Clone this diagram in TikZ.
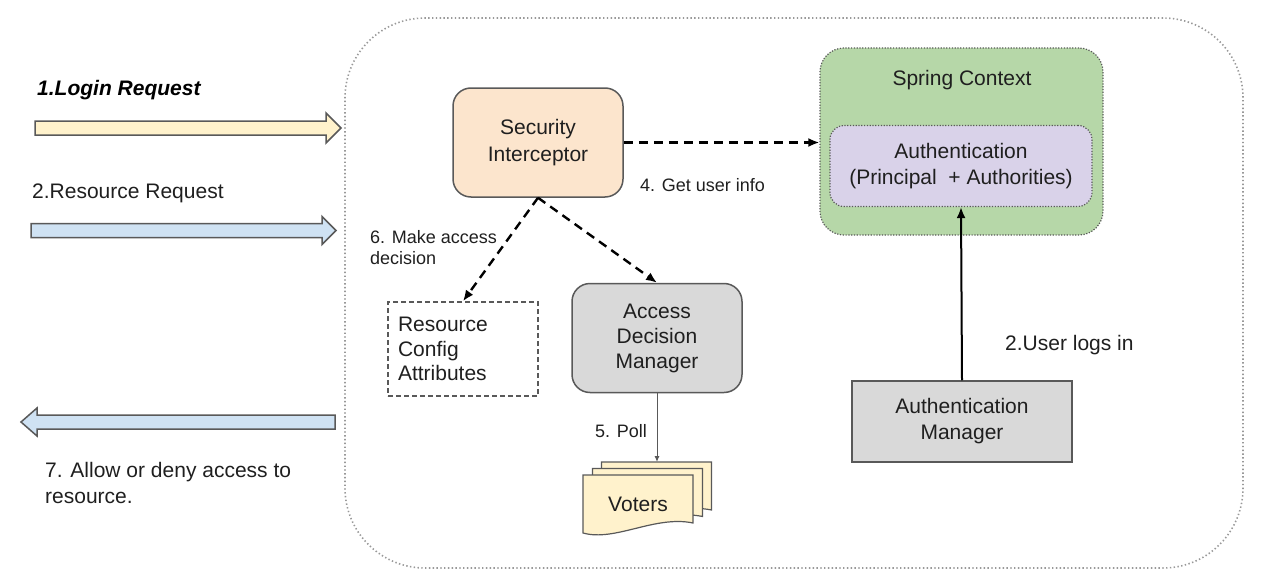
\documentclass[tikz,border=0pt]{standalone}
\usepackage{fontspec}
\setmainfont{Liberation Sans}
\usetikzlibrary{arrows.meta}
\definecolor{peach}{HTML}{FCE5CD}
\definecolor{sgreen}{HTML}{B6D7A8}
\definecolor{lav}{HTML}{D9D2E9}
\definecolor{lgray}{HTML}{D9D9D9}
\definecolor{pyellow}{HTML}{FFF2CC}
\definecolor{pblue}{HTML}{CFE2F3}
\definecolor{bord}{HTML}{595959}
\definecolor{txt}{HTML}{1F1F1F}
\begin{document}
\begin{tikzpicture}[x=1pt,y=-1pt,
  font=\fontsize{21}{25.5}\selectfont, text=txt,
  box/.style={draw=bord, line width=1.5pt, align=center, inner sep=0pt},
  dotbox/.style={draw=bord, line width=1.2pt, dash pattern=on 1.2pt off 1.6pt, inner sep=0pt},
  lbl/.style={inner sep=0pt, align=left},
  small/.style={font=\fontsize{18}{21}\selectfont},
  blockarrow/.style={draw=bord, line width=1.5pt, line join=miter},
  dasharrow/.style={line width=2.4pt, dash pattern=on 9pt off 6pt, -{Latex[length=11pt,width=9pt]}},
  tip/.style={-{Latex[length=11pt,width=9pt]}}]
\useasboundingbox (0,0) rectangle (1269,586);

% outer dotted region
\node[draw=black!40, line width=1.6pt, dash pattern=on 1.4pt off 2.4pt, rounded corners=80pt,
  minimum width=898pt, minimum height=550pt, inner sep=0pt] (outer) at (794,293) {};

% block arrows on the left
\draw[blockarrow, fill=pyellow] (35,121) -- (326,121) -- (326,113) -- (341,128) -- (326,143) -- (326,135) -- (35,135) -- cycle;
\draw[blockarrow, fill=pblue] (31,223.5) -- (322,223.5) -- (322,216.5) -- (336,230.5) -- (322,244.5) -- (322,237.5) -- (31,237.5) -- cycle;
\draw[blockarrow, fill=pblue] (335,415) -- (37,415) -- (37,408) -- (21,422) -- (37,436) -- (37,429) -- (335,429) -- cycle;

\node[lbl, anchor=west, font=\fontsize{21}{25.5}\selectfont\bfseries\itshape, text=black] (login) at (37,90) {1.Login Request};
\node[lbl, anchor=west] (resreq) at (32,193) {2.Resource Request};
\node[lbl, anchor=west] (allow) at (45,483) {7. Allow or deny access to\\resource.};

% Spring context
\node[dotbox, fill=sgreen, rounded corners=24pt, minimum width=283pt, minimum height=187pt] (sc) at (961.5,141.5) {};
\node[lbl] (sctitle) at (962,80) {Spring Context};
\node[dotbox, fill=lav, rounded corners=14pt, minimum width=262pt, minimum height=81pt, align=center] (auth) at (961,166)
  {Authentication\\(Principal\ \ + Authorities)};

% Security interceptor
\node[box, fill=peach, rounded corners=18pt, minimum width=170pt, minimum height=109pt,
  font=\fontsize{21}{27}\selectfont] (si) at (538,142.5) {Security\\Interceptor};

% Resource config attributes
\node[draw=bord, line width=1.5pt, dash pattern=on 5pt off 3pt, minimum width=150pt, minimum height=94pt,
  inner sep=0pt, text width=130pt, align=left, font=\fontsize{21}{24.5}\selectfont] (rca) at (463,349)
  {Resource\\Config\\Attributes};

% Access decision manager
\node[box, fill=lgray, rounded corners=18pt, minimum width=170pt, minimum height=109pt,
  font=\fontsize{21}{25}\selectfont] (adm) at (657,338) {Access\\Decision\\Manager};

% Authentication manager
\node[box, fill=lgray, minimum width=220pt, minimum height=81pt,
  font=\fontsize{21}{26}\selectfont] (am) at (962,421.5) {Authentication\\Manager};

% Voters (stacked documents)
\foreach \dx/\dy in {18.5/-13, 9.5/-6.5, 0/0} {
  \draw[draw=bord, line width=1.2pt, fill=pyellow, shift={(\dx,\dy)}]
    (583,475) -- (693,475) -- (693,523) .. controls (655,515) and (615,542) .. (583,533) -- cycle;
}
\node[inner sep=0pt] (voters) at (638,504) {Voters};
\coordinate (vtop) at (657,462);

% connectors
\draw[dasharrow] (si.east) -- (si.east -| sc.west);
\draw[dasharrow] (si.south) -- (rca.north);
\draw[dasharrow] (si.south) -- (adm.north);
\draw[line width=2pt, tip] (am.north) -- (auth.south);
\draw[draw=bord, line width=1pt, -{Latex[length=6pt,width=5pt]}] (adm.south) -- (vtop);

% labels
\node[lbl, small, anchor=west] (l4) at (640,185) {4. Get user info};
\node[lbl, small, anchor=west] (l6) at (370,248) {6. Make access\\decision};
\node[lbl, small, anchor=west] (l5) at (595,431) {5. Poll};
\node[lbl, anchor=west] (l2) at (1005,345) {2.User logs in};
\end{tikzpicture}
\end{document}
